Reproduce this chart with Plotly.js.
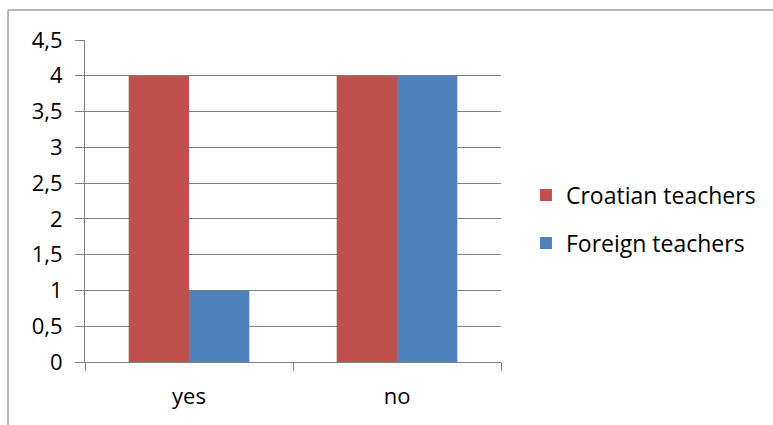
<!DOCTYPE html>
<html><head><meta charset="utf-8">
<script src="https://cdn.plot.ly/plotly-3.0.1.min.js"></script>
<style>html,body{margin:0;padding:0;background:#fff}#c{width:773px;height:425px}</style>
</head><body><div id="c"></div>
<script>
const categories = ["yes", "no"];
const croatian = [4, 4];
const foreign = [1, 4];
const seriesNames = ["Croatian teachers", "Foreign teachers"];
const yTicks = [0, 0.5, 1, 1.5, 2, 2.5, 3, 3.5, 4, 4.5];

const font = {family: "Open Sans, Liberation Sans, sans-serif", size: 22, color: "#000"};
const traces = [
  {type: "bar", x: categories, y: croatian, name: seriesNames[0], legendgroup: "a",
   marker: {color: "#c0504d", line: {width: 0}}},
  {type: "bar", x: categories, y: foreign, name: seriesNames[1], legendgroup: "b",
   marker: {color: "#4f81bd", line: {width: 0}}}
];
const layout = {
  width: 773, height: 425,
  margin: {l: 85, r: 272, t: 40, b: 63},
  paper_bgcolor: "#fff", plot_bgcolor: "#fff",
  font: font,
  separators: ", ",
  barmode: "group", bargap: 0.42, bargroupgap: 0,
  xaxis: {type: "category", showgrid: false, showline: true, linecolor: "#808080", linewidth: 1,
          ticks: "outside", tickson: "boundaries", ticklen: 8, tickcolor: "#808080",
          ticklabelstandoff: 15, tickfont: font, zeroline: false},
  yaxis: {range: [0, 4.5], tickvals: yTicks, showgrid: true, gridcolor: "#808080", gridwidth: 1,
          showline: true, linecolor: "#808080", linewidth: 1, ticks: "outside", ticklen: 9,
          tickcolor: "#808080", ticklabelstandoff: 8, tickfont: font, zeroline: false},
  legend: {x: 1.06, xanchor: "left", y: 0.444, yanchor: "middle", font: {family: font.family, size: 23, color: "#000"},
           tracegroupgap: 15, bgcolor: "rgba(0,0,0,0)"},
  showlegend: true,
  shapes: [
    {type: "line", xref: "paper", yref: "paper", x0: -0.185, x1: 1.7, y0: 1.093, y1: 1.093, line: {color: "#a0a0a0", width: 1.5}},
    {type: "line", xref: "paper", yref: "paper", x0: -0.185, x1: -0.185, y0: 1.093, y1: -0.3, line: {color: "#a0a0a0", width: 1.5}}
  ]
};
Plotly.newPlot("c", traces, layout, {displayModeBar: false, staticPlot: true});
</script></body></html>
